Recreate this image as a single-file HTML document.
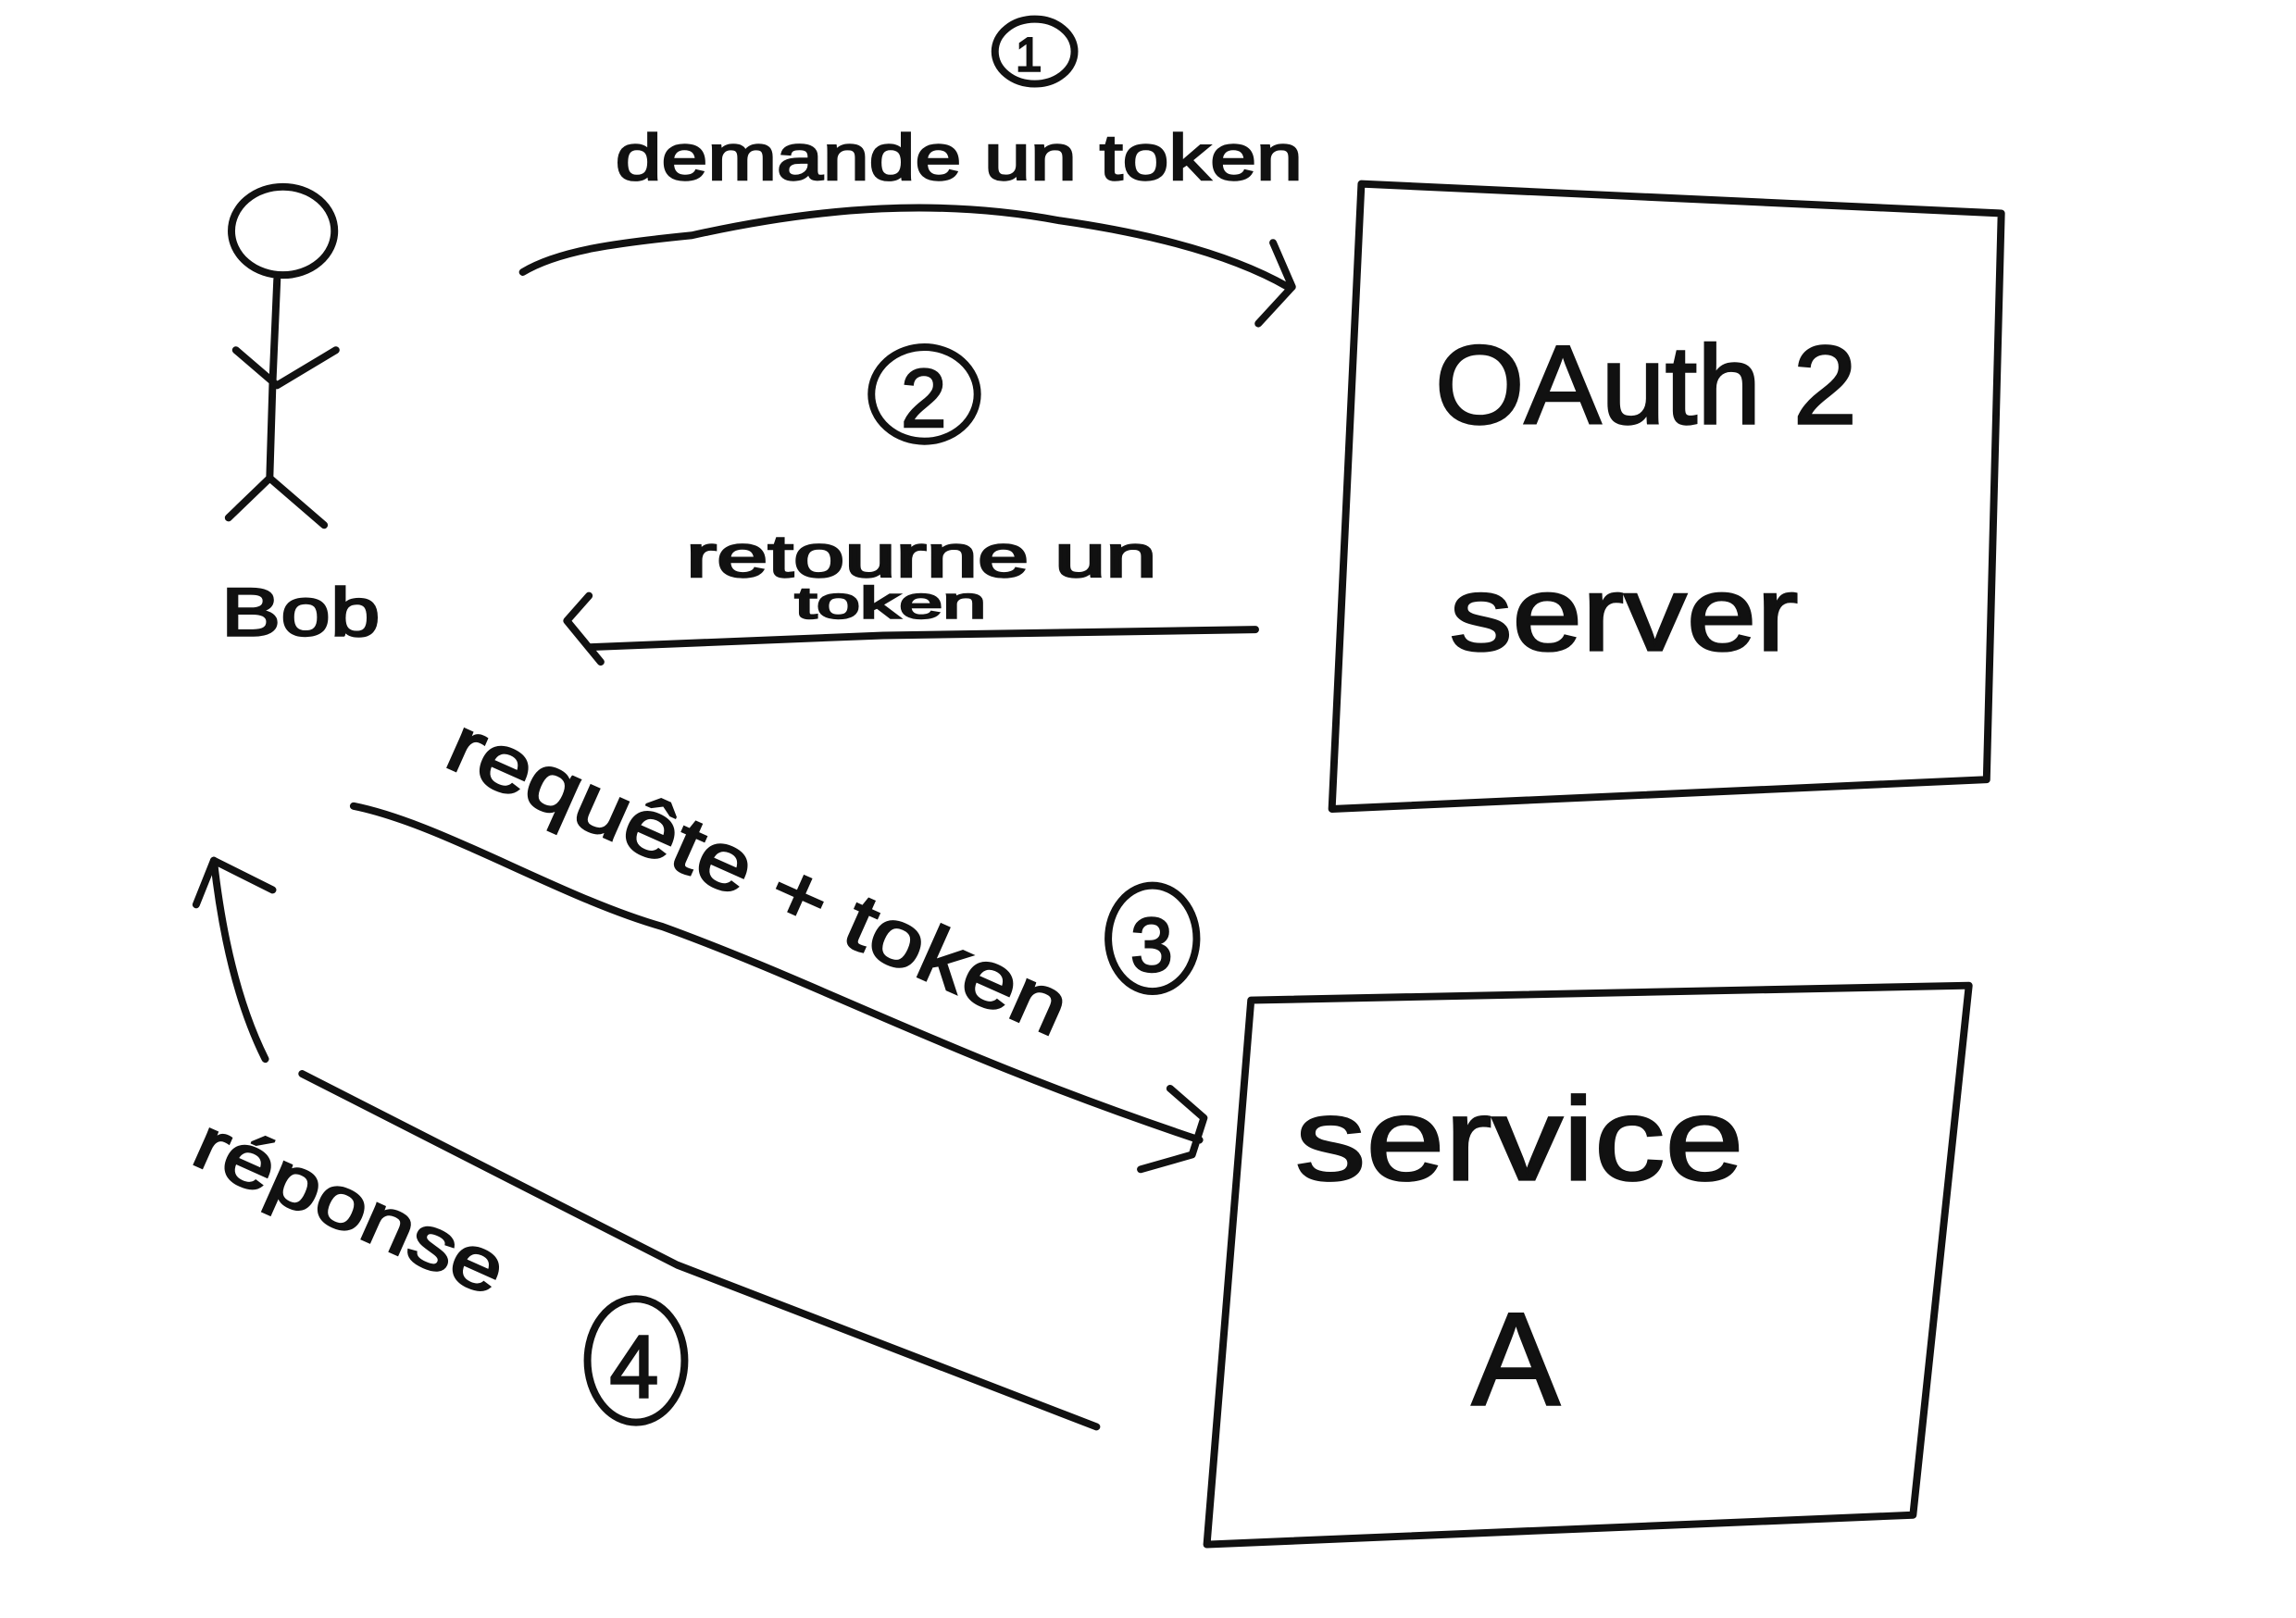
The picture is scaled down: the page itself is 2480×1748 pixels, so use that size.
<!DOCTYPE html>
<html><head><meta charset="utf-8"><style>
html,body{margin:0;padding:0;background:#fff;width:2480px;height:1748px;overflow:hidden}
svg{display:block}
text{font-family:"Liberation Sans",sans-serif;fill:#111;stroke:#111;stroke-width:1.5}
</style></head><body>
<svg width="2480" height="1748" viewBox="0 0 1560 1100" xmlns="http://www.w3.org/2000/svg">
<rect width="1560" height="1100" fill="#fff"/>
<g fill="none" stroke="#111" stroke-width="5" stroke-linecap="round" stroke-linejoin="round">
<ellipse cx="192" cy="157" rx="35" ry="30"/>
<path d="M188 190 L185 260 L183 325"/>
<path d="M160 238 L188 262 L228 238"/>
<path d="M183 325 L155 352 M183 325 L220 357"/>
<path d="M355 185 C380 170 420 165 470 160 C560 140 640 135 720 150 C790 160 840 175 875 195"/>
<path d="M865 165 L878 195 L855 220"/>
<ellipse cx="703" cy="35" rx="27" ry="22"/>
<path d="M925 125 L1360 145 L1350 530 L905 550 Z"/>
<ellipse cx="628" cy="268" rx="36" ry="32"/>
<path d="M853 428 L600 432 L400 440"/>
<path d="M400 405 L385 422 L408 450"/>
<path d="M240 548 C300 560 380 610 450 630 C560 670 650 720 815 775"/>
<path d="M795 740 L818 760 L810 785 L775 795"/>
<ellipse cx="783" cy="638" rx="30" ry="36"/>
<path d="M850 680 L1338 670 L1300 1030 L820 1050 Z"/>
<path d="M745 970 L460 860 L205 730"/>
<path d="M180 720 C160 680 150 630 145 585"/>
<path d="M133 615 L145 585 L185 605"/>
<ellipse cx="432" cy="925" rx="33" ry="42"/>
</g>
<text x="690" y="48" font-size="32">1</text>
<text x="612" y="290" font-size="56">2</text>
<text x="768" y="660" font-size="52">3</text>
<text x="414" y="950" font-size="60">4</text>
<text x="418" y="122" font-size="44" textLength="467" lengthAdjust="spacingAndGlyphs">demande un token</text>
<text x="466" y="392" font-size="40" textLength="320" lengthAdjust="spacingAndGlyphs">retourne un</text>
<text x="540" y="420" font-size="30" textLength="130" lengthAdjust="spacingAndGlyphs">token</text>
<text x="150" y="432" font-size="46" textLength="108" lengthAdjust="spacingAndGlyphs">Bob</text>
<text x="975" y="288" font-size="76" textLength="287" lengthAdjust="spacingAndGlyphs">OAuth 2</text>
<text x="985" y="442" font-size="72" textLength="237" lengthAdjust="spacingAndGlyphs">server</text>
<text x="880" y="802" font-size="80" textLength="305" lengthAdjust="spacingAndGlyphs">service</text>
<text x="1000" y="955" font-size="90">A</text>
<text x="300" y="520" font-size="54" transform="rotate(24 300 520)" textLength="455" lengthAdjust="spacingAndGlyphs">requête + token</text>
<text x="128" y="790" font-size="50" transform="rotate(24 128 790)" textLength="225" lengthAdjust="spacingAndGlyphs">réponse</text>
</svg>
</body></html>
